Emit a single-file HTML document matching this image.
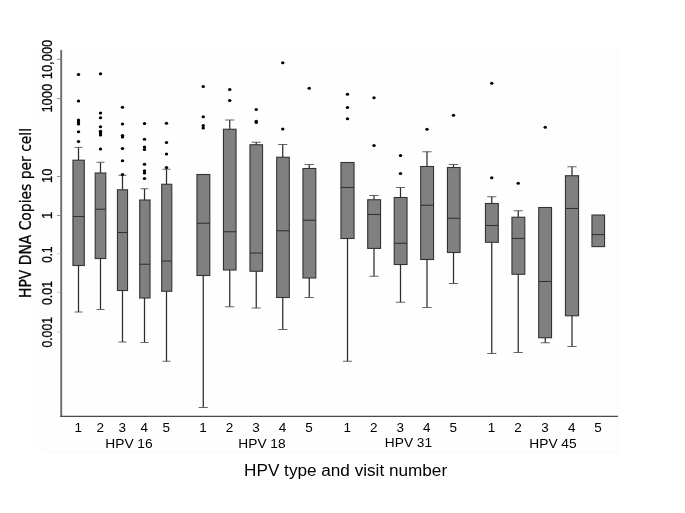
<!DOCTYPE html>
<html><head><meta charset="utf-8"><title>HPV DNA copies per cell</title>
<style>html,body{margin:0;padding:0;background:#fff}svg{display:block}text{fill:#000}.b text,text.b{stroke:#000;stroke-width:0.25px}</style></head><body>
<svg width="685" height="513" viewBox="0 0 685 513">
<rect width="685" height="513" fill="#ffffff"/>
<rect x="40" y="49.5" width="578" height="402" fill="#fefefe" stroke="#f9f9f9" stroke-width="1"/>
<g stroke="#2c2c2c" stroke-width="1.25" fill="none">
<path d="M78.5 160.2V147.4"/><path stroke="#4a4a4a" stroke-width="0.85" d="M74.5 147.4H82.5"/>
<path d="M78.5 265.5V312"/><path stroke="#4a4a4a" stroke-width="0.85" d="M74.5 312H82.5"/>
<path d="M100.5 173V162.25"/><path stroke="#4a4a4a" stroke-width="0.85" d="M96.5 162.25H104.5"/>
<path d="M100.5 258.5V309.5"/><path stroke="#4a4a4a" stroke-width="0.85" d="M96.5 309.5H104.5"/>
<path d="M122.5 189.8V175.25"/><path stroke="#4a4a4a" stroke-width="0.85" d="M118.5 175.25H126.5"/>
<path d="M122.5 290.5V342"/><path stroke="#4a4a4a" stroke-width="0.85" d="M118.5 342H126.5"/>
<path d="M144.5 200V188.75"/><path stroke="#4a4a4a" stroke-width="0.85" d="M140.5 188.75H148.5"/>
<path d="M144.5 298V342.5"/><path stroke="#4a4a4a" stroke-width="0.85" d="M140.5 342.5H148.5"/>
<path d="M166.5 184.25V169.25"/><path stroke="#4a4a4a" stroke-width="0.85" d="M162.5 169.25H170.5"/>
<path d="M166.5 291.25V361.25"/><path stroke="#4a4a4a" stroke-width="0.85" d="M162.5 361.25H170.5"/>
<path d="M203.25 275.5V407.5"/><path stroke="#4a4a4a" stroke-width="0.85" d="M198.65 407.5H207.85"/>
<path d="M229.75 129.25V120"/><path stroke="#4a4a4a" stroke-width="0.85" d="M225.15 120H234.35"/>
<path d="M229.75 270V306.75"/><path stroke="#4a4a4a" stroke-width="0.85" d="M225.15 306.75H234.35"/>
<path d="M256.25 144.75V142.25"/><path stroke="#4a4a4a" stroke-width="0.85" d="M251.65 142.25H260.85"/>
<path d="M256.25 271.25V308"/><path stroke="#4a4a4a" stroke-width="0.85" d="M251.65 308H260.85"/>
<path d="M282.75 157.25V144.5"/><path stroke="#4a4a4a" stroke-width="0.85" d="M278.15 144.5H287.35"/>
<path d="M282.75 297.5V329.5"/><path stroke="#4a4a4a" stroke-width="0.85" d="M278.15 329.5H287.35"/>
<path d="M309.25 168.5V164.5"/><path stroke="#4a4a4a" stroke-width="0.85" d="M304.65 164.5H313.85"/>
<path d="M309.25 278V297.5"/><path stroke="#4a4a4a" stroke-width="0.85" d="M304.65 297.5H313.85"/>
<path d="M347.5 238.5V361.25"/><path stroke="#4a4a4a" stroke-width="0.85" d="M342.9 361.25H352.1"/>
<path d="M374 199.75V195.5"/><path stroke="#4a4a4a" stroke-width="0.85" d="M369.4 195.5H378.6"/>
<path d="M374 248.4V276.25"/><path stroke="#4a4a4a" stroke-width="0.85" d="M369.4 276.25H378.6"/>
<path d="M400.5 197.5V187.5"/><path stroke="#4a4a4a" stroke-width="0.85" d="M395.9 187.5H405.1"/>
<path d="M400.5 264.5V302.25"/><path stroke="#4a4a4a" stroke-width="0.85" d="M395.9 302.25H405.1"/>
<path d="M427 166.5V151.75"/><path stroke="#4a4a4a" stroke-width="0.85" d="M422.4 151.75H431.6"/>
<path d="M427 259.5V307.5"/><path stroke="#4a4a4a" stroke-width="0.85" d="M422.4 307.5H431.6"/>
<path d="M453.5 167.5V164.5"/><path stroke="#4a4a4a" stroke-width="0.85" d="M448.9 164.5H458.1"/>
<path d="M453.5 252.5V283.5"/><path stroke="#4a4a4a" stroke-width="0.85" d="M448.9 283.5H458.1"/>
<path d="M491.75 203.5V196.75"/><path stroke="#4a4a4a" stroke-width="0.85" d="M487.15 196.75H496.35"/>
<path d="M491.75 242.25V353.5"/><path stroke="#4a4a4a" stroke-width="0.85" d="M487.15 353.5H496.35"/>
<path d="M518.25 217.25V210.75"/><path stroke="#4a4a4a" stroke-width="0.85" d="M513.65 210.75H522.85"/>
<path d="M518.25 274.25V352.5"/><path stroke="#4a4a4a" stroke-width="0.85" d="M513.65 352.5H522.85"/>
<path d="M545.25 337.75V342.75"/><path stroke="#4a4a4a" stroke-width="0.85" d="M540.65 342.75H549.85"/>
<path d="M572 175.75V166.75"/><path stroke="#4a4a4a" stroke-width="0.85" d="M567.4 166.75H576.6"/>
<path d="M572 315.75V346.5"/><path stroke="#4a4a4a" stroke-width="0.85" d="M567.4 346.5H576.6"/>
</g>
<g fill="#808080" stroke="#333" stroke-width="1.1">
<rect x="72.95" y="160.2" width="11.35" height="105.3"/>
<path d="M72.95 216.5H84.3"/>
<rect x="95.2" y="173" width="10.6" height="85.5"/>
<path d="M95.2 209.25H105.8"/>
<rect x="117.45" y="189.8" width="10.1" height="100.7"/>
<path d="M117.45 232.5H127.55"/>
<rect x="139.7" y="200" width="10.35" height="98"/>
<path d="M139.7 264.25H150.05"/>
<rect x="161.7" y="184.25" width="10.1" height="107.0"/>
<path d="M161.7 261H171.8"/>
<rect x="196.95" y="174.5" width="12.85" height="101.0"/>
<path d="M196.95 223.25H209.8"/>
<rect x="223.45" y="129.25" width="12.6" height="140.75"/>
<path d="M223.45 231.75H236.05"/>
<rect x="249.95" y="144.75" width="12.6" height="126.5"/>
<path d="M249.95 253H262.55"/>
<rect x="276.7" y="157.25" width="12.6" height="140.25"/>
<path d="M276.7 230.75H289.3"/>
<rect x="302.95" y="168.5" width="12.85" height="109.5"/>
<path d="M302.95 220.25H315.8"/>
<rect x="340.95" y="162.5" width="13.1" height="76.0"/>
<path d="M340.95 187.5H354.05"/>
<rect x="367.7" y="199.75" width="12.85" height="48.65"/>
<path d="M367.7 214.5H380.55"/>
<rect x="394.2" y="197.5" width="12.85" height="67.0"/>
<path d="M394.2 243.25H407.05"/>
<rect x="420.7" y="166.5" width="12.85" height="93.0"/>
<path d="M420.7 205.25H433.55"/>
<rect x="447.45" y="167.5" width="12.6" height="85.0"/>
<path d="M447.45 218.25H460.05"/>
<rect x="485.45" y="203.5" width="12.85" height="38.75"/>
<path d="M485.45 225.5H498.3"/>
<rect x="511.95" y="217.25" width="12.85" height="57.0"/>
<path d="M511.95 238.5H524.8"/>
<rect x="538.7" y="207.5" width="12.85" height="130.25"/>
<path d="M538.7 281.5H551.55"/>
<rect x="565.45" y="175.75" width="13.1" height="140.0"/>
<path d="M565.45 208.5H578.55"/>
<rect x="591.95" y="215" width="12.6" height="31.6"/>
<path d="M591.95 234.6H604.55"/>
</g>
<g fill="#000">
<ellipse cx="78.5" cy="74.5" rx="1.7" ry="1.5"/>
<ellipse cx="78.5" cy="101" rx="1.7" ry="1.5"/>
<ellipse cx="78.5" cy="120" rx="1.7" ry="1.5"/>
<ellipse cx="78.5" cy="122" rx="1.7" ry="1.5"/>
<ellipse cx="78.5" cy="124" rx="1.7" ry="1.5"/>
<ellipse cx="78.5" cy="131.75" rx="1.7" ry="1.5"/>
<ellipse cx="78.5" cy="141.5" rx="1.7" ry="1.5"/>
<ellipse cx="100.5" cy="73.75" rx="1.7" ry="1.5"/>
<ellipse cx="100.5" cy="113" rx="1.7" ry="1.5"/>
<ellipse cx="100.5" cy="117.75" rx="1.7" ry="1.5"/>
<ellipse cx="100.5" cy="126.75" rx="1.7" ry="1.5"/>
<ellipse cx="100.5" cy="131.25" rx="1.7" ry="1.5"/>
<ellipse cx="100.5" cy="133" rx="1.7" ry="1.5"/>
<ellipse cx="100.5" cy="135" rx="1.7" ry="1.5"/>
<ellipse cx="100.5" cy="149" rx="1.7" ry="1.5"/>
<ellipse cx="122.5" cy="107.25" rx="1.7" ry="1.5"/>
<ellipse cx="122.5" cy="124" rx="1.7" ry="1.5"/>
<ellipse cx="122.5" cy="135.5" rx="1.7" ry="1.5"/>
<ellipse cx="122.5" cy="137" rx="1.7" ry="1.5"/>
<ellipse cx="122.5" cy="148.5" rx="1.7" ry="1.5"/>
<ellipse cx="122.5" cy="160.75" rx="1.7" ry="1.5"/>
<ellipse cx="122.5" cy="174.5" rx="1.7" ry="1.5"/>
<ellipse cx="144.5" cy="123.5" rx="1.7" ry="1.5"/>
<ellipse cx="144.5" cy="139.25" rx="1.7" ry="1.5"/>
<ellipse cx="144.5" cy="147" rx="1.7" ry="1.5"/>
<ellipse cx="144.5" cy="149.5" rx="1.7" ry="1.5"/>
<ellipse cx="144.5" cy="164.3" rx="1.7" ry="1.5"/>
<ellipse cx="144.5" cy="170.7" rx="1.7" ry="1.5"/>
<ellipse cx="144.5" cy="173.1" rx="1.7" ry="1.5"/>
<ellipse cx="144.5" cy="178.4" rx="1.7" ry="1.5"/>
<ellipse cx="166.5" cy="123.25" rx="1.7" ry="1.5"/>
<ellipse cx="166.5" cy="142.5" rx="1.7" ry="1.5"/>
<ellipse cx="166.5" cy="154" rx="1.7" ry="1.5"/>
<ellipse cx="166.5" cy="167.6" rx="1.7" ry="1.5"/>
<ellipse cx="203.25" cy="86.5" rx="1.7" ry="1.5"/>
<ellipse cx="203.25" cy="116.75" rx="1.7" ry="1.5"/>
<ellipse cx="203.25" cy="125.5" rx="1.7" ry="1.5"/>
<ellipse cx="203.25" cy="128" rx="1.7" ry="1.5"/>
<ellipse cx="229.75" cy="89.5" rx="1.7" ry="1.5"/>
<ellipse cx="229.75" cy="100.5" rx="1.7" ry="1.5"/>
<ellipse cx="256.25" cy="109.5" rx="1.7" ry="1.5"/>
<ellipse cx="256.25" cy="121.25" rx="1.7" ry="1.5"/>
<ellipse cx="256.25" cy="122.5" rx="1.7" ry="1.5"/>
<ellipse cx="282.75" cy="62.75" rx="1.7" ry="1.5"/>
<ellipse cx="282.75" cy="129" rx="1.7" ry="1.5"/>
<ellipse cx="309.25" cy="88.25" rx="1.7" ry="1.5"/>
<ellipse cx="347.5" cy="94.25" rx="1.7" ry="1.5"/>
<ellipse cx="347.5" cy="107.5" rx="1.7" ry="1.5"/>
<ellipse cx="347.5" cy="118.75" rx="1.7" ry="1.5"/>
<ellipse cx="374" cy="97.75" rx="1.7" ry="1.5"/>
<ellipse cx="374" cy="145.5" rx="1.7" ry="1.5"/>
<ellipse cx="400.5" cy="155.5" rx="1.7" ry="1.5"/>
<ellipse cx="400.5" cy="173.5" rx="1.7" ry="1.5"/>
<ellipse cx="427" cy="129.25" rx="1.7" ry="1.5"/>
<ellipse cx="453.5" cy="115.25" rx="1.7" ry="1.5"/>
<ellipse cx="491.75" cy="83.25" rx="1.7" ry="1.5"/>
<ellipse cx="491.75" cy="177.75" rx="1.7" ry="1.5"/>
<ellipse cx="518.25" cy="183.25" rx="1.7" ry="1.5"/>
<ellipse cx="545.25" cy="127.25" rx="1.7" ry="1.5"/>
</g>
<path d="M61.2 50V417" fill="none" stroke="#6c6c6c" stroke-width="1.9"/>
<path d="M60.3 416.4H618" fill="none" stroke="#4a4a4a" stroke-width="1.2"/>
<path d="M57 59.3H60.3" stroke="#777" stroke-width="0.8"/>
<path d="M57 98.6H60.3" stroke="#777" stroke-width="0.8"/>
<path d="M57 176.5H60.3" stroke="#777" stroke-width="0.8"/>
<path d="M57 215.5H60.3" stroke="#777" stroke-width="0.8"/>
<path d="M57 253.7H60.3" stroke="#bbb" stroke-width="0.8"/>
<path d="M57 292.3H60.3" stroke="#bbb" stroke-width="0.8"/>
<path d="M57 331.8H60.3" stroke="#bbb" stroke-width="0.8"/>
<g font-family="'Liberation Sans',Arial,sans-serif" font-size="14" text-anchor="middle" class="b">
<text transform="translate(51.5 59.5) rotate(-90) scale(0.925 1)">10,000</text>
<text transform="translate(51.5 98.2) rotate(-90) scale(0.925 1)">1000</text>
<text transform="translate(51.5 175.85) rotate(-90) scale(0.93 1)">10</text>
<text transform="translate(51.5 215.3) rotate(-90) scale(0.925 1)">1</text>
<text transform="translate(51.5 254.6) rotate(-90) scale(0.845 1)">0.1</text>
<text transform="translate(51.5 293.0) rotate(-90) scale(0.883 1)">0.01</text>
<text transform="translate(51.5 332.25) rotate(-90) scale(0.878 1)">0.001</text>
</g>
<g font-family="'Liberation Sans',Arial,sans-serif" font-size="12.5" text-anchor="middle">
<text transform="translate(78.3 431.9) scale(1.08 1)">1</text>
<text transform="translate(100.3 431.9) scale(1.08 1)">2</text>
<text transform="translate(122.3 431.9) scale(1.08 1)">3</text>
<text transform="translate(144.3 431.9) scale(1.08 1)">4</text>
<text transform="translate(166.3 431.9) scale(1.08 1)">5</text>
<text transform="translate(203.05 431.9) scale(1.08 1)">1</text>
<text transform="translate(229.55 431.9) scale(1.08 1)">2</text>
<text transform="translate(256.05 431.9) scale(1.08 1)">3</text>
<text transform="translate(282.55 431.9) scale(1.08 1)">4</text>
<text transform="translate(309.05 431.9) scale(1.08 1)">5</text>
<text transform="translate(347.3 431.9) scale(1.08 1)">1</text>
<text transform="translate(373.8 431.9) scale(1.08 1)">2</text>
<text transform="translate(400.3 431.9) scale(1.08 1)">3</text>
<text transform="translate(426.8 431.9) scale(1.08 1)">4</text>
<text transform="translate(453.3 431.9) scale(1.08 1)">5</text>
<text transform="translate(491.55 431.9) scale(1.08 1)">1</text>
<text transform="translate(518.05 431.9) scale(1.08 1)">2</text>
<text transform="translate(545.05 431.9) scale(1.08 1)">3</text>
<text transform="translate(571.8 431.9) scale(1.08 1)">4</text>
<text transform="translate(598.05 431.9) scale(1.08 1)">5</text>
<text x="129" y="448.4" font-size="13" textLength="47.3" lengthAdjust="spacingAndGlyphs">HPV 16</text>
<text x="262" y="448.4" font-size="13" textLength="47.3" lengthAdjust="spacingAndGlyphs">HPV 18</text>
<text x="408.5" y="446.9" font-size="13" textLength="47.3" lengthAdjust="spacingAndGlyphs">HPV 31</text>
<text x="553" y="448.2" font-size="13" textLength="47.3" lengthAdjust="spacingAndGlyphs">HPV 45</text>
</g>
<text x="345.6" y="475.7" font-family="'Liberation Sans',Arial,sans-serif" font-size="17.3" text-anchor="middle" textLength="203" lengthAdjust="spacingAndGlyphs">HPV type and visit number</text>
<text class="b" transform="translate(31.2 213) rotate(-90)" font-family="'DejaVu Sans','Liberation Sans',sans-serif" font-size="15.6" text-anchor="middle" textLength="170" lengthAdjust="spacingAndGlyphs">HPV DNA Copies per cell</text>
</svg></body></html>
